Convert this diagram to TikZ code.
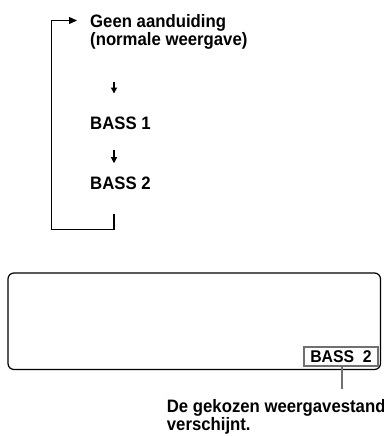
\documentclass[tikz,border=0pt]{standalone}
\usepackage{fontspec}
\setmainfont{Liberation Sans}[FakeStretch=0.93]
\usetikzlibrary{arrows.meta}
\definecolor{framegray}{HTML}{707070}
\begin{document}
\begin{tikzpicture}[x=1pt,y=-1pt,
        lbl/.style={font=\fontsize{18}{18}\selectfont\bfseries, inner sep=0pt, align=left},
        dn/.style={-{Triangle[length=6pt,width=6pt]}, line width=1.2pt},
        loopline/.style={-{Triangle[length=8pt,width=7pt]}, line width=1.1pt},
        display/.style={line width=1.2pt, rounded corners=6pt},
        selbox/.style={draw=framegray, line width=2pt, minimum width=74pt, minimum height=19pt,
            inner sep=0pt, font=\fontsize{17}{17}\selectfont\bfseries},
        pointer/.style={draw=framegray, line width=1.6pt}]
    \useasboundingbox (0,0) rectangle (383,436);

    % order of the modes
    \node[lbl, anchor=north west] (geen) at (90,14.3) {Geen aanduiding\\(normale weergave)};
    \node[lbl, anchor=base west] (bass1) at (90,129.3) {BASS 1};
    \node[lbl, anchor=base west] (bass2) at (90,189.3) {BASS 2};

    \coordinate (ax) at (114,0);
    \draw[dn, shorten <=32pt, shorten >=23pt] (geen.south -| ax) -- (bass1.north -| ax);
    \draw[dn, shorten <=20.7pt, shorten >=13.3pt] (bass1.south -| ax) -- (bass2.north -| ax);

    % back to the top
    \coordinate (ret) at (114,213.5);
    \coordinate (corner) at (51.5,229.5);
    \coordinate (entry) at (77,20.5);
    \draw[loopline] (ret) |- (corner) |- (entry);

    % display
    \draw[display] (8,273) rectangle (380.5,369.5);
    \node[selbox] (sel) at (341,356.5) {BASS~~2};
    \coordinate (tip) at (342,389);
    \draw[pointer] (sel.south -| tip) -- (tip);
    \node[lbl, anchor=north west] (note) at (166.7,399.3) {De gekozen weergavestand\\verschijnt.};
\end{tikzpicture}
\end{document}
